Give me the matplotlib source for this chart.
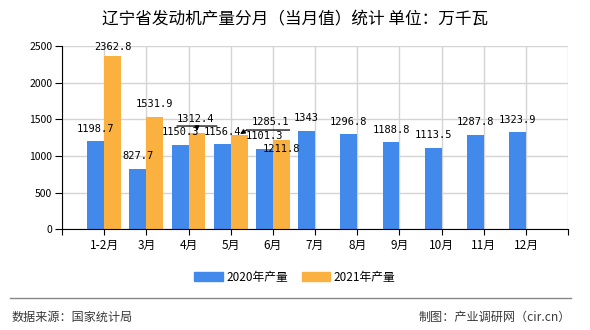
import matplotlib
matplotlib.use("Agg")
import matplotlib.pyplot as plt
import matplotlib.transforms as mtransforms
from matplotlib.lines import Line2D
from matplotlib.patches import Patch
import numpy as np

plt.rcParams['font.family'] = ['Noto Sans CJK SC', 'DejaVu Sans']

months = ['1-2月', '3月', '4月', '5月', '6月', '7月', '8月', '9月', '10月', '11月', '12月']
prod_2020 = [1198.7, 827.7, 1150.3, 1156.4, 1101.3, 1343, 1296.8, 1188.8, 1113.5, 1287.8, 1323.9]
prod_2021 = [2362.8, 1531.9, 1312.4, 1285.1, 1211.8]
label_2020 = ['1198.7', '827.7', '1150.3', '1156.4', '1101.3', '1343', '1296.8', '1188.8', '1113.5', '1287.8', '1323.9']
label_2021 = ['2362.8', '1531.9', '1312.4', '1285.1', '1211.8']

blue = '#4189eb'
orange = '#fab140'

fig = plt.figure(figsize=(5.9, 3.3), dpi=100)
ax = fig.add_axes([0.105, 0.305, 0.858, 0.556])

x = np.arange(len(months))
x21 = np.arange(len(prod_2021))
bw = 0.4
ax.bar(x - bw / 2, prod_2020, width=bw, color=blue, zorder=3)
ax.bar(x21 + bw / 2, prod_2021, width=bw, color=orange, zorder=3)

ax.set_xlim(-1, len(months))
ax.set_ylim(0, 2500)
ax.set_yticks(range(0, 2501, 500))
ax.set_xticks(np.arange(-1, len(months) + 1))
ax.set_xticklabels([''] + months + [''])
ax.tick_params(axis='x', labelsize=8.5, length=4, pad=3)
ax.tick_params(axis='y', labelsize=7.5, length=5, pad=2)
ax.grid(True, color='#d4d4d4', lw=1, zorder=0)
for s in ['top', 'right']:
    ax.spines[s].set_visible(False)
for s in ['left', 'bottom']:
    ax.spines[s].set_color('black')
    ax.spines[s].set_zorder(4)


def off(dx, dy):
    # data point shifted by some pixels
    return mtransforms.offset_copy(ax.transData, fig=fig, x=dx, y=dy, units='dots')


lab_font = dict(fontsize=7.5, family='DejaVu Sans Mono', ha='center', va='center', zorder=5)

# value labels (pixel offsets from bar top)
for xi, v, t in zip(x, prod_2020, label_2020):
    ax.text(xi - bw / 2, v, t, transform=off(0, 12.5), **lab_font)

shift_2021 = [(0, 9), (0, 13), (-1, 14), (31.5, 13), (0, -8.5)]
for xi, v, t, (dx, dy) in zip(x21, prod_2021, label_2021, shift_2021):
    ax.text(xi + bw / 2, v, t, transform=off(dx, dy), **lab_font)

# leader lines for the moved labels
arrow = dict(arrowstyle='-|>', color='black', lw=0.8, shrinkA=0, shrinkB=0, mutation_scale=7)
plain = dict(arrowstyle='-', color='black', lw=0.9, shrinkA=0, shrinkB=0)

xa, ya = x21[2] + bw / 2, prod_2021[2]
ax.annotate('', xy=(xa, ya), xycoords=off(20, 7), xytext=(xa, ya), textcoords=off(-20, 7),
            arrowprops=plain, zorder=5)
ax.annotate('', xy=(xa, ya), xycoords=off(0, 2), xytext=(xa, ya), textcoords=off(0, 7),
            arrowprops=arrow, zorder=5)

xb, yb = x21[3] + bw / 2, prod_2021[3]
ax.annotate('', xy=(xb, yb), xycoords=off(50.5, 5), xytext=(xb, yb), textcoords=off(7.5, 5),
            arrowprops=plain, zorder=5)
ax.annotate('', xy=(xb, yb), xycoords=off(1, 1), xytext=(xb, yb), textcoords=off(7.5, 5),
            arrowprops=arrow, zorder=5)

fig.text(0.5, 1 - 20 / 330, '辽宁省发动机产量分月（当月值）统计 单位：万千瓦', ha='center', va='center', fontsize=12)

handles = [Patch(color=blue), Patch(color=orange)]
fig.legend(handles, ['2020年产量', '2021年产量'], loc='center', bbox_to_anchor=(0.5, 1 - 277 / 330),
           ncol=2, frameon=False, fontsize=8.5, handlelength=2.4, handleheight=0.9,
           handletextpad=0.3, columnspacing=1.2)

fig.add_artist(Line2D([10 / 590, 571 / 590], [1 - 298 / 330] * 2, color='#888888', lw=1))
fig.text(12 / 590, 1 - 317 / 330, '数据来源：国家统计局', ha='left', va='center', fontsize=8.7, color='#3a3a3a')
fig.text(571 / 590, 1 - 317 / 330, '制图：产业调研网（cir.cn）', ha='right', va='center', fontsize=8.7, color='#3a3a3a')

fig.savefig('out.png', dpi=100)
